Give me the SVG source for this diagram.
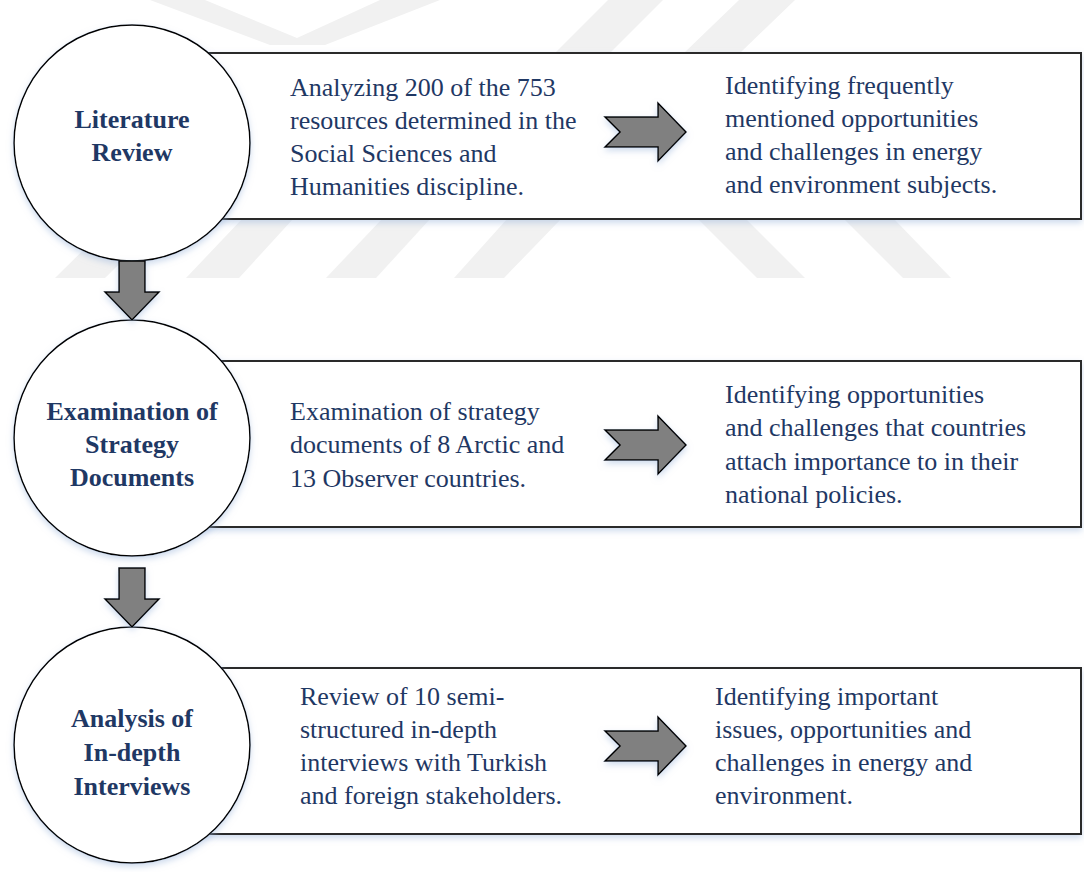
<svg xmlns="http://www.w3.org/2000/svg" width="1084" height="872" viewBox="0 0 1084 872">
  <defs>
    <filter id="glow" x="-10%" y="-10%" width="120%" height="130%">
      <feDropShadow dx="0" dy="3" stdDeviation="3" flood-color="#9db6dc" flood-opacity="0.5"/>
    </filter>
    <path id="rarrow" d="M0,-15 L53,-15 L53,-29 L81,0 L53,29 L53,15 L0,15 L15,0 Z"/>
    <path id="darrow" d="M-13,0 L13,0 L13,31 L27,31 L0,59 L-27,31 L-13,31 Z"/>
  </defs>
  <style>
    .box { fill: #ffffff; stroke: #2b2b2b; stroke-width: 2; filter: url(#glow); }
    .step { fill: #ffffff; stroke: #000000; stroke-width: 1.5; filter: url(#glow); }
    .arrow { fill: #808080; stroke: #000000; stroke-width: 1.5; stroke-linejoin: miter; filter: url(#glow); }
    text { font-family: 'Liberation Serif', 'Times New Roman', 'DejaVu Serif', serif; font-size: 26px; fill: #1f3864; }
    .title { font-weight: bold; text-anchor: middle; }
    .wm { fill: #f1f1f1; }
  </style>

  <rect width="1084" height="872" fill="#ffffff"/>

  <!-- faint background emblem -->
  <g id="watermark">
    <polygon class="wm" points="150,0 205,0 297,38 380,0 440,0 325,45 270,45"/>
    <polygon class="wm" points="608,0 663,0 610,53 555,53"/>
    <polygon class="wm" points="739,0 795,0 740,53 684,53"/>
    <polygon class="wm" points="115,219 165,219 105,278 55,278"/>
    <polygon class="wm" points="242,219 293,219 239,278 186,278"/>
    <polygon class="wm" points="382,219 430,219 376,278 326,278"/>
    <polygon class="wm" points="507,219 561,219 504,278 454,278"/>
    <polygon class="wm" points="698,219 746,219 805,278 757,278"/>
    <polygon class="wm" points="844,219 894,219 951,278 903,278"/>
  </g>

  <!-- detail boxes -->
  <g id="box-literature" font-family="Liberation Serif, serif">
    <rect class="box" x="200" y="53" width="881" height="166"/>
    <text x="290" y="96">Analyzing 200 of the 753</text>
    <text x="290" y="129">resources determined in the</text>
    <text x="290" y="162">Social Sciences and</text>
    <text x="290" y="195">Humanities discipline.</text>
    <text x="725" y="94">Identifying frequently</text>
    <text x="725" y="127">mentioned opportunities</text>
    <text x="725" y="160">and challenges in energy</text>
    <text x="725" y="193">and environment subjects.</text>
  </g>

  <g id="box-strategy">
    <rect class="box" x="200" y="361" width="881" height="166"/>
    <text x="290" y="420">Examination of strategy</text>
    <text x="290" y="453">documents of 8 Arctic and</text>
    <text x="290" y="487">13 Observer countries.</text>
    <text x="725" y="403">Identifying opportunities</text>
    <text x="725" y="436">and challenges that countries</text>
    <text x="725" y="470">attach importance to in their</text>
    <text x="725" y="503">national policies.</text>
  </g>

  <g id="box-interviews">
    <rect class="box" x="200" y="668" width="881" height="166"/>
    <text x="300" y="705">Review of 10 semi-</text>
    <text x="300" y="738">structured in-depth</text>
    <text x="300" y="771">interviews with Turkish</text>
    <text x="300" y="804">and foreign stakeholders.</text>
    <text x="715" y="705">Identifying important</text>
    <text x="715" y="738">issues, opportunities and</text>
    <text x="715" y="771">challenges in energy and</text>
    <text x="715" y="804">environment.</text>
  </g>

  <!-- step circles -->
  <g id="step-literature">
    <circle class="step" cx="132" cy="143" r="118"/>
    <text class="title" x="132" y="128">Literature</text>
    <text class="title" x="132" y="161">Review</text>
  </g>

  <g id="step-strategy">
    <circle class="step" cx="132" cy="438" r="118"/>
    <text class="title" x="132" y="420">Examination of</text>
    <text class="title" x="132" y="453">Strategy</text>
    <text class="title" x="132" y="486">Documents</text>
  </g>

  <g id="step-interviews">
    <circle class="step" cx="132" cy="745" r="118"/>
    <text class="title" x="132" y="727">Analysis of</text>
    <text class="title" x="132" y="761">In-depth</text>
    <text class="title" x="132" y="795">Interviews</text>
  </g>

  <!-- connectors -->
  <g id="connectors">
    <use href="#darrow" class="arrow" x="132" y="261"/>
    <use href="#darrow" class="arrow" x="132" y="568"/>
    <use href="#rarrow" class="arrow" x="605" y="132"/>
    <use href="#rarrow" class="arrow" x="605" y="445"/>
    <use href="#rarrow" class="arrow" x="605" y="746"/>
  </g>
</svg>
